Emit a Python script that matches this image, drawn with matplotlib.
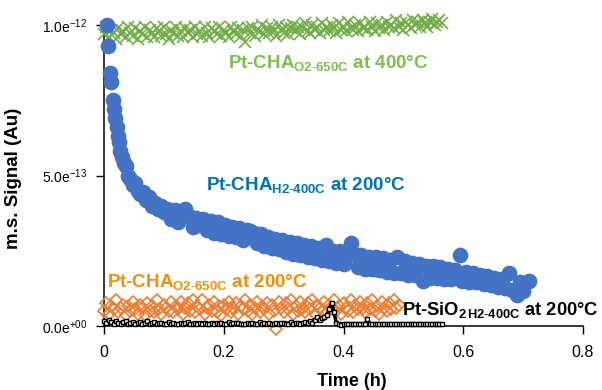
import matplotlib
matplotlib.use("Agg")
import matplotlib.pyplot as plt

plt.rcParams['font.family'] = ['Liberation Sans', 'DejaVu Sans']
plt.rcParams['mathtext.fontset'] = 'custom'
plt.rcParams['mathtext.rm'] = 'Liberation Sans'
plt.rcParams['mathtext.bf'] = 'Liberation Sans:bold'
plt.rcParams['mathtext.it'] = 'Liberation Sans:italic'

SCALE = 1e-13

# common time base (h)
time_h = [0.000, 0.004, 0.008, 0.012, 0.016, 0.020, 0.024, 0.028, 0.032, 0.036,
          0.040, 0.044, 0.048, 0.052, 0.056, 0.060, 0.064, 0.068, 0.072, 0.076,
          0.080, 0.084, 0.088, 0.092, 0.096, 0.100, 0.104, 0.108, 0.112, 0.116,
          0.120, 0.124, 0.128, 0.132, 0.136, 0.140, 0.144, 0.148, 0.152, 0.156,
          0.160, 0.164, 0.168, 0.172, 0.176, 0.180, 0.184, 0.188, 0.192, 0.196,
          0.200, 0.204, 0.208, 0.212, 0.216, 0.220, 0.224, 0.228, 0.232, 0.236,
          0.240, 0.244, 0.248, 0.252, 0.256, 0.260, 0.264, 0.268, 0.272, 0.276,
          0.280, 0.284, 0.288, 0.292, 0.296, 0.300, 0.304, 0.308, 0.312, 0.316,
          0.320, 0.324, 0.328, 0.332, 0.336, 0.340, 0.344, 0.348, 0.352, 0.356,
          0.360, 0.364, 0.368, 0.372, 0.376, 0.380, 0.384, 0.388, 0.392, 0.396,
          0.400, 0.404, 0.408, 0.412, 0.416, 0.420, 0.424, 0.428, 0.432, 0.436,
          0.440, 0.444, 0.448, 0.452, 0.456, 0.460, 0.464, 0.468, 0.472, 0.476,
          0.480, 0.484, 0.488, 0.492, 0.496, 0.500, 0.504, 0.508, 0.512, 0.516,
          0.520, 0.524, 0.528, 0.532, 0.536, 0.540, 0.544, 0.548, 0.552, 0.556,
          0.560, 0.564]

# Pt-CHA O2-650C at 400C (x 1e-13)
cha_o2_400 = [9.7, 9.95, 9.6, 9.85, 9.75, 9.55, 9.9, 9.7, 9.8, 9.6,
              9.95, 9.75, 9.65, 9.9, 9.55, 9.8, 9.7, 9.95, 9.6, 9.85,
              9.75, 9.6, 9.9, 9.8, 9.65, 9.95, 9.7, 9.55, 9.85, 9.75,
              9.95, 9.65, 9.8, 9.6, 9.9, 9.75, 9.85, 9.6, 9.95, 9.7,
              9.8, 9.65, 9.95, 9.75, 9.6, 9.9, 9.8, 9.7, 9.95, 9.65,
              9.85, 9.75, 9.6, 9.95, 9.8, 9.7, 9.9, 9.65, 9.85, 9.45,
              9.9, 9.75, 9.95, 9.65, 9.85, 9.8, 10.0, 9.7, 9.9, 9.75,
              9.95, 9.8, 9.65, 10.0, 9.85, 9.75, 9.95, 9.7, 9.9, 10.0,
              9.8, 9.95, 9.7, 9.9, 10.05, 9.8, 9.75, 10.0, 9.85, 9.95,
              9.75, 10.05, 9.85, 9.95, 9.8, 10.0, 9.9, 9.75, 10.05, 9.85,
              9.95, 9.8, 10.1, 9.9, 9.85, 10.0, 9.8, 10.05, 9.9, 9.95,
              9.85, 10.1, 9.95, 9.8, 10.05, 9.9, 10.0, 9.85, 10.1, 9.95,
              10.0, 9.9, 10.15, 9.95, 10.05, 9.85, 10.1, 10.0, 9.9, 10.15,
              10.0, 10.1, 9.95, 10.15, 10.05, 9.95, 10.1, 10.2, 10.0, 10.1,
              10.15, 10.05]

# Pt-CHA O2-650C at 200C (x 1e-13)
cha_o2_200 = [0.5, 0.75, 0.4, 0.65, 0.55, 0.85, 0.45, 0.6, 0.7, 0.35,
              0.65, 0.5, 0.8, 0.55, 0.4, 0.7, 0.6, 0.35, 0.75, 0.5,
              0.65, 0.45, 0.85, 0.55, 0.4, 0.7, 0.6, 0.5, 0.8, 0.45,
              0.65, 0.55, 0.8, 0.4, 0.6, 0.75, 0.5, 0.85, 0.45, 0.65,
              0.55, 0.85, 0.4, 0.6, 0.7, 0.5, 0.8, 0.45, 0.65, 0.35,
              0.7, 0.55, 0.8, 0.45, 0.6, 0.75, 0.4, 0.65, 0.55, 0.85,
              0.5, 0.7, 0.4, 0.6, 0.8, 0.45, 0.65, 0.55, 0.75, 0.4,
              0.7, 0.5, -0.1, 0.8, 0.6, 0.45, 0.75, 0.55, 0.85, 0.4,
              0.65, 0.5, 0.8, 0.6, 0.45, 0.75, 0.55, 0.85, 0.4, 0.7,
              0.6, 0.5, 0.8, 0.45, 0.7, 0.55, 0.85, 0.5, 0.65, 0.4,
              0.75, 0.6, 0.5, 0.85, 0.45, 0.7, 0.55, 0.8, 0.6, 0.45,
              0.75, 0.55, 0.85, 0.5, 0.65, 0.4, 0.8, 0.6, 0.5, 0.75,
              0.55, 0.85, 0.6, 0.7]

# Pt-SiO2 H2-400C at 200C (x 1e-13)
sio2_h2_200 = [0.15, 0.1, 0.2, 0.12, 0.08, 0.15, 0.1, 0.05, 0.12, 0.18,
               0.08, 0.1, 0.14, 0.06, 0.1, 0.12, 0.05, 0.09, 0.15, 0.07,
               0.1, 0.13, 0.06, 0.09, 0.11, 0.05, 0.08, 0.12, 0.06, 0.1,
               0.08, 0.05, 0.11, 0.07, 0.09, 0.12, 0.06, 0.08, 0.1, 0.05,
               0.09, 0.07, 0.11, 0.06, 0.08, 0.1, 0.05, 0.09, 0.07, 0.1,
               0.06, 0.08, 0.12, 0.07, 0.09, 0.11, 0.1, 0.06, 0.08, 0.05,
               0.09, 0.07, 0.1, 0.06, 0.08, 0.12, 0.05, 0.09, 0.07, 0.1,
               0.06, 0.08, 0.11, 0.07, 0.09, 0.1, 0.06, 0.08, 0.12, 0.07,
               0.09, 0.11, 0.08, 0.1, 0.12, 0.09, 0.15, 0.1, 0.2, 0.29,
               0.2, 0.25, 0.3, 0.35, 0.55, 0.77, 0.46, 0.1, 0.05, 0.04,
               0.05, 0.07, 0.05, 0.06, 0.08, 0.05, 0.06, 0.05, 0.07, 0.06,
               0.23, 0.06, 0.05, 0.07, 0.05, 0.06, 0.05, 0.08, 0.06, 0.05,
               0.07, 0.05, 0.06, 0.05, 0.07, 0.06, 0.05, 0.06, 0.05, 0.07,
               0.05, 0.06, 0.08, 0.05, 0.06, 0.05, 0.07, 0.05, 0.06, 0.05,
               0.06, 0.05]

# Pt-CHA H2-400C at 200C
time_cha_h2 = [0.005, 0.007, 0.010, 0.012, 0.015, 0.017, 0.019, 0.021, 0.023, 0.025,
               0.027, 0.030, 0.033, 0.036, 0.040, 0.044, 0.048, 0.052, 0.056, 0.060,
               0.065, 0.070, 0.075, 0.080, 0.085, 0.090, 0.095, 0.100,
               0.106, 0.112, 0.118, 0.124, 0.130, 0.136, 0.142, 0.148, 0.154, 0.160,
               0.166, 0.172, 0.178, 0.184, 0.190, 0.196, 0.202, 0.208, 0.214, 0.220,
               0.226, 0.232, 0.238, 0.244, 0.250, 0.256, 0.262, 0.268, 0.274, 0.280,
               0.286, 0.292, 0.298, 0.304, 0.310, 0.316, 0.322, 0.328, 0.334, 0.340,
               0.346, 0.352, 0.358, 0.364, 0.370, 0.376, 0.382, 0.388, 0.394, 0.400,
               0.406, 0.412, 0.418, 0.424, 0.430, 0.436, 0.442, 0.448, 0.454, 0.460,
               0.466, 0.472, 0.478, 0.484, 0.490, 0.496, 0.502, 0.508, 0.514, 0.520,
               0.526, 0.532, 0.538, 0.544, 0.550, 0.556, 0.562, 0.568, 0.574, 0.580,
               0.586, 0.594, 0.598, 0.604, 0.610, 0.616, 0.622, 0.628, 0.634, 0.640,
               0.646, 0.652, 0.658, 0.664, 0.670, 0.676, 0.682, 0.690, 0.694, 0.700,
               0.710]
cha_h2_200 = [10.0, 9.3, 8.4, 8.1, 7.5, 7.2, 6.9, 6.6, 6.3, 6.1,
              5.8, 5.6, 5.4, 5.3, 5.0, 4.9, 4.7, 4.75, 4.5, 4.4,
              4.45, 4.2, 4.3, 4.0, 4.1, 3.9, 4.0, 3.8,
              3.9, 3.55, 3.85, 3.45, 3.75, 3.9, 3.65, 3.3, 3.6, 3.35,
              3.55, 3.2, 3.5, 3.1, 3.45, 3.05, 3.35, 3.0, 3.3, 2.95,
              3.25, 2.85, 3.2, 3.15, 3.1, 2.75, 3.05, 2.65, 2.95, 2.6,
              2.9, 2.55, 2.85, 2.45, 2.8, 2.4, 2.75, 2.35, 2.7, 2.3,
              2.65, 2.25, 2.6, 2.2, 2.7, 2.15, 2.5, 2.1, 2.5, 2.05,
              2.45, 2.75, 2.4, 1.95, 2.35, 1.9, 2.3, 1.9, 2.3, 1.85,
              2.25, 1.8, 2.2, 1.75, 2.3, 1.75, 2.15, 1.7, 2.1, 1.7,
              2.05, 1.5, 2.0, 1.6, 2.0, 1.6, 1.95, 1.55, 1.9, 1.55,
              1.85, 2.36, 1.5, 1.8, 1.45, 1.75, 1.45, 1.7, 1.4, 1.65,
              1.35, 1.6, 1.3, 1.55, 1.25, 1.75, 1.2, 1.03, 1.45, 1.15,
              1.5]

green = '#70AD47'
orange = '#ED7D31'
blue = '#4472C4'

fig = plt.figure(figsize=(6.02, 3.90), dpi=100)
ax = fig.add_axes([104/602, 64/390, 479/602, 301/390])

def sc(v):
    return [y * SCALE for y in v]

n = min(len(time_h), len(cha_o2_400))
ax.plot(time_h[:n], sc(cha_o2_400[:n]), ls='none', marker='x', ms=8.5, mew=1.15,
        color=green, clip_on=False, zorder=3)
n = min(len(time_h), len(cha_o2_200))
ax.plot(time_h[:n], sc(cha_o2_200[:n]), ls='none', marker='D', ms=5.8, mew=1.2,
        mec=orange, mfc='none', clip_on=False, zorder=3)
n = min(len(time_h), len(sio2_h2_200))
ax.plot(time_h[:n], sc(sio2_h2_200[:n]), ls='-', lw=2.5, color='black', marker='s',
        ms=3.2, mew=1.0, mec='black', mfc='white', clip_on=False, zorder=4)
n = min(len(time_cha_h2), len(cha_h2_200))
ax.plot(time_cha_h2[:n], sc(cha_h2_200[:n]), ls='none', marker='o', ms=10.3,
        color=blue, mec=blue, clip_on=False, zorder=5)

ax.set_xlim(0, 0.8)
ax.set_ylim(0, 1e-12)
ax.set_xticks([0, 0.2, 0.4, 0.6, 0.8])
ax.set_xticklabels(['0', '0.2', '0.4', '0.6', '0.8'], fontsize=11.5)
ax.set_yticks([0, 5e-13, 1e-12])
ax.set_yticklabels([r'0.0e$^{+00}$', r'5.0e$^{-13}$', r'1.0e$^{-12}$'], fontsize=10)
ax.tick_params(axis='x', direction='out', length=6, width=1, pad=8)
ax.tick_params(axis='y', direction='out', length=6, width=1, pad=6)
for s in ['top', 'right']:
    ax.spines[s].set_visible(False)
for s in ['left', 'bottom']:
    ax.spines[s].set_linewidth(1.1)

ax.set_xlabel('Time (h)', fontsize=13, fontweight='bold')
ax.xaxis.set_label_coords(0.518, -0.155)
ax.set_ylabel('m.s. Signal (Au)', fontsize=13.5, fontweight='bold')
ax.yaxis.set_label_coords(-0.172, 0.49)

tk = dict(fontsize=13.5, fontweight='bold', ha='left', va='baseline', zorder=6)
ax.text(0.207, 8.57e-13, r'Pt-CHA$_{\mathregular{O2\text{-}650C}}$ at 400°C', color='#7DBF4E', **tk)
ax.text(0.171, 4.52e-13, r'Pt-CHA$_{\mathregular{H2\text{-}400C}}$ at 200°C', color='#0070C0', **tk)
ax.text(0.005, 1.30e-13, r'Pt-CHA$_{\mathregular{O2\text{-}650C}}$ at 200°C', color='#F0900A', **tk)
ax.text(0.498, 0.37e-13, r'Pt-SiO$_{\mathregular{2\,H2\text{-}400C}}$ at 200°C', color='black',
        **{**tk, 'fontsize': 13.2})

fig.savefig('out.png', dpi=100)
